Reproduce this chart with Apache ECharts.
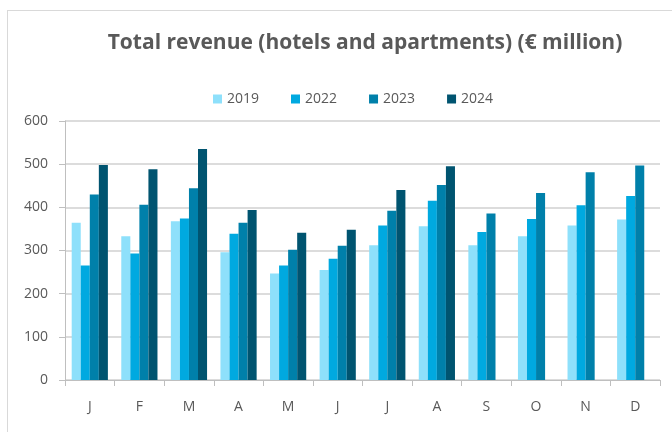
<!DOCTYPE html>
<html>
<head>
<meta charset="utf-8">
<script src="https://cdn.jsdelivr.net/npm/echarts@6/dist/echarts.min.js"></script>
<style>
  html, body { margin: 0; padding: 0; background: #fff; }
  #frame { position: absolute; left: 7px; top: 10px; width: 680px; height: 440px; border: 1px solid #d9d9d9; box-sizing: border-box; }
  #chart { width: 672px; height: 432px; position: absolute; left: 0; top: 0; }
</style>
</head>
<body>
<div id="frame"></div>
<div id="chart"></div>
<script>
// Monthly total revenue, hotels and apartments (€ million)
const months = ['J', 'F', 'M', 'A', 'M', 'J', 'J', 'A', 'S', 'O', 'N', 'D'];
const rev2019 = [364, 333, 368, 296, 247, 255, 312, 356, 312, 333, 358, 372];
const rev2022 = [265, 293, 374, 339, 265, 281, 358, 415, 343, 373, 405, 426];
const rev2023 = [430, 406, 444, 364, 302, 311, 392, 452, 386, 433, 481, 497];
const rev2024 = [498, 488, 535, 394, 341, 348, 440, 495, null, null, null, null];
const yearNames = ['2019', '2022', '2023', '2024'];
const yearColors = ['#8ee0fb', '#00a9e0', '#0080aa', '#005470'];
const yTicks = [0, 100, 200, 300, 400, 500, 600];

const seriesData = [rev2019, rev2022, rev2023, rev2024];
const textColor = '#595959';
const font = '"Open Sans", "Liberation Sans", sans-serif';

const chart = echarts.init(document.getElementById('chart'), null, { renderer: 'canvas' });
chart.setOption({
  animation: false,
  title: {
    text: 'Total revenue (hotels and apartments) (€ million)',
    left: 360,
    top: 28,
    textAlign: 'center',
    textStyle: { color: textColor, fontFamily: font, fontWeight: 'bold', fontSize: 21 }
  },
  legend: {
    top: 87,
    left: 208,
    itemWidth: 9,
    itemHeight: 9,
    itemGap: 32,
    icon: 'rect',
    textStyle: { color: textColor, fontFamily: font, fontSize: 14 },
    data: yearNames
  },
  grid: { left: 65, right: 12, top: 121, bottom: 52, containLabel: false },
  xAxis: {
    type: 'category',
    data: months,
    boundaryGap: true,
    axisLine: { lineStyle: { color: '#bfbfbf', width: 1 } },
    axisTick: { show: true, length: 6, lineStyle: { color: '#bfbfbf' } },
    axisLabel: { color: textColor, fontFamily: font, fontSize: 14, margin: 20 }
  },
  yAxis: {
    type: 'value',
    min: yTicks[0],
    max: yTicks[yTicks.length - 1],
    interval: 100,
    axisLine: { show: true, lineStyle: { color: '#bfbfbf' } },
    axisTick: { show: true, length: 6, lineStyle: { color: '#bfbfbf' } },
    splitLine: { lineStyle: { color: '#d0d0d0', width: 1.5 } },
    axisLabel: { color: textColor, fontFamily: font, fontSize: 14, margin: 17 }
  },
  series: yearNames.map((name, i) => ({
    name: name,
    type: 'bar',
    data: seriesData[i],
    barGap: '0%',
    barCategoryGap: '27%',
    itemStyle: { color: yearColors[i] }
  }))
});
</script>
</body>
</html>
